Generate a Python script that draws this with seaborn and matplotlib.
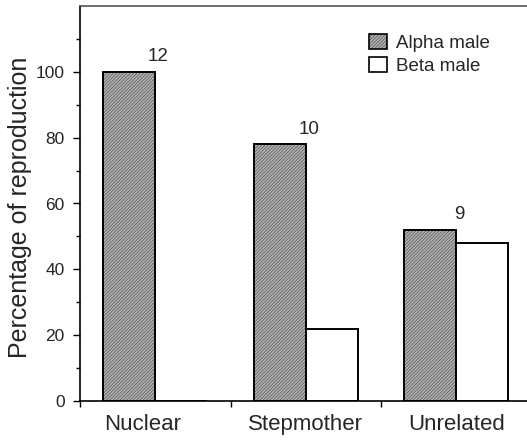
import matplotlib
matplotlib.use("Agg")
import matplotlib.pyplot as plt
import matplotlib.transforms as mtransforms
import seaborn as sns
import pandas as pd
from matplotlib.patches import Patch

# Reproductive share of alpha and beta males by family type
groups = ["Nuclear", "Stepmother", "Unrelated"]
alpha_male = [100, 78, 52]
beta_male = [0, 22, 48]
sample_sizes = [12, 10, 9]
y_ticks = [0, 20, 40, 60, 80, 100]
y_minor_ticks = [10, 30, 50, 70, 90, 110]
series = ["Alpha male", "Beta male"]

df = pd.DataFrame({
    "group": groups * 2,
    "male": [series[0]] * len(groups) + [series[1]] * len(groups),
    "pct": alpha_male + beta_male,
})

sns.set_style("ticks")
plt.rcParams["font.family"] = ["Liberation Sans", "DejaVu Sans"]
plt.rcParams["hatch.linewidth"] = 0.25

fig = plt.figure(figsize=(5.27, 4.44), dpi=100)
ax = fig.add_axes([80 / 527, 43 / 444, 451.5 / 527, 395 / 444])

alpha_face = "#b0b0b0"
palette = {"Alpha male": alpha_face, "Beta male": "white"}
sns.barplot(data=df, x="group", y="pct", hue="male", hue_order=series,
            order=groups, palette=palette, saturation=1, width=0.69,
            edgecolor="black", linewidth=1.4, legend=False, ax=ax)

fine_hatch = "//////////"
for bar in ax.containers[0]:
    bar.set_hatch(fine_hatch)

# sample sizes above the alpha bars
for i, (n, v) in enumerate(zip(sample_sizes, alpha_male)):
    ax.text(i + 0.02, v + 4.6, str(n), ha="center", va="center", fontsize=13.5)

ax.set_xlim(-0.5, 2.5)
ax.set_ylim(0, 120)
ax.set_yticks(y_ticks)
ax.set_yticks(y_minor_ticks, minor=True)
ax.set_xticks(range(len(groups)))
ax.set_xticklabels(groups)
ax.set_xticks([-0.5, 0.5, 1.5, 2.5], minor=True)

ax.tick_params(axis="y", which="major", direction="out", length=5, width=1,
               labelsize=12.5, pad=6, color="black")
ax.tick_params(axis="y", which="minor", direction="out", length=3, width=1,
               color="black")
ax.tick_params(axis="x", which="major", length=0, labelsize=16, pad=9.5)
ax.tick_params(axis="x", which="minor", direction="out", length=4.5, width=1,
               color="black")

# the first category label sits a little left of its group centre
first_label = ax.get_xticklabels()[0]
first_label.set_transform(first_label.get_transform()
                          + mtransforms.ScaledTranslation(-13 / 100, 0, fig.dpi_scale_trans))

ax.set_xlabel("")
ax.set_ylabel("Percentage of reproduction", fontsize=18)
ax.yaxis.set_label_coords(-0.106, 0.49)

for side in ["left", "bottom", "top"]:
    ax.spines[side].set_visible(True)
    ax.spines[side].set_color("black")
    ax.spines[side].set_linewidth(1.2)
ax.spines["top"].set_color("#555555")
ax.spines["right"].set_visible(False)

handles = [
    Patch(facecolor=alpha_face, edgecolor="black", hatch=fine_hatch, linewidth=1.2),
    Patch(facecolor="white", edgecolor="black", linewidth=1.2),
]
ax.legend(handles, series, loc="upper left", bbox_to_anchor=(0.640, 0.928),
          frameon=False, fontsize=13.5, handlelength=0.96, handleheight=0.85,
          handletextpad=0.48, labelspacing=0.25, borderpad=0, borderaxespad=0)

fig.savefig("out.png", dpi=100)
